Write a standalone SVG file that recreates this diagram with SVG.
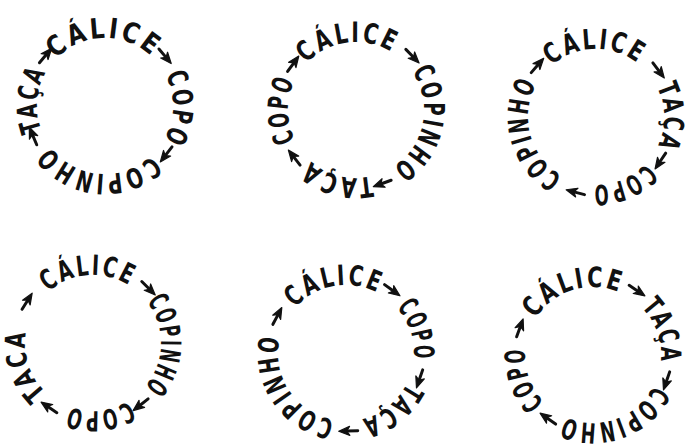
<svg xmlns="http://www.w3.org/2000/svg" width="687" height="445" viewBox="0 0 687 445">
<style>
text{font-family:"DejaVu Sans Condensed","DejaVu Sans",sans-serif;font-weight:bold;font-size:28px;fill:#111;letter-spacing:3px}
.a line{stroke:#111;stroke-width:3;stroke-linecap:round}
.a path{fill:#111;stroke:#111;stroke-width:1.2;stroke-linejoin:round}
</style>
<defs>
<path id="ring" d="M0,68 A68,68 0 1 1 0,-68 A68,68 0 1 1 0,68"/>
<g id="arr" class="a"><line x1="-9" y1="-78" x2="2" y2="-78"/><path d="M10,-78 L-1,-82.5 L2,-78 L-1,-73.5Z"/></g>
</defs>
<rect width="687" height="445" fill="#fff"/>
<g id="circle1" transform="translate(105,106)">
<text transform="rotate(-1)"><textPath href="#ring" startOffset="50%" text-anchor="middle" textLength="108" lengthAdjust="spacingAndGlyphs">CÁLICE</textPath></text>
<use href="#arr" transform="rotate(50)"/>
<text transform="rotate(92)"><textPath href="#ring" startOffset="50%" text-anchor="middle" textLength="70" lengthAdjust="spacingAndGlyphs">COPO</textPath></text>
<use href="#arr" transform="rotate(128)"/>
<text transform="rotate(186)"><textPath href="#ring" startOffset="50%" text-anchor="middle" textLength="117" lengthAdjust="spacingAndGlyphs">COPINHO</textPath></text>
<use href="#arr" transform="rotate(247)"/>
<text transform="rotate(275)"><textPath href="#ring" startOffset="50%" text-anchor="middle" textLength="62" lengthAdjust="spacingAndGlyphs">TAÇA</textPath></text>
<use href="#arr" transform="rotate(310)"/>
</g>
<g id="circle2" transform="translate(356,110)">
<text transform="rotate(-7)"><textPath href="#ring" startOffset="50%" text-anchor="middle" textLength="95" lengthAdjust="spacingAndGlyphs">CÁLICE</textPath></text>
<use href="#arr" transform="rotate(46)"/>
<text transform="rotate(102)"><textPath href="#ring" startOffset="50%" text-anchor="middle" textLength="111" lengthAdjust="spacingAndGlyphs">COPINHO</textPath></text>
<use href="#arr" transform="rotate(160)"/>
<text transform="rotate(195)"><textPath href="#ring" startOffset="50%" text-anchor="middle" textLength="67" lengthAdjust="spacingAndGlyphs">TAÇA</textPath></text>
<use href="#arr" transform="rotate(232)"/>
<text transform="rotate(270)"><textPath href="#ring" startOffset="50%" text-anchor="middle" textLength="63" lengthAdjust="spacingAndGlyphs">COPO</textPath></text>
<use href="#arr" transform="rotate(306)"/>
</g>
<g id="circle3" transform="translate(596,117)">
<text transform="rotate(-1)"><textPath href="#ring" startOffset="50%" text-anchor="middle" textLength="95" lengthAdjust="spacingAndGlyphs">CÁLICE</textPath></text>
<use href="#arr" transform="rotate(53)"/>
<text transform="rotate(90)"><textPath href="#ring" startOffset="50%" text-anchor="middle" textLength="63" lengthAdjust="spacingAndGlyphs">TAÇA</textPath></text>
<use href="#arr" transform="rotate(124)"/>
<text transform="rotate(158)"><textPath href="#ring" startOffset="50%" text-anchor="middle" textLength="60" lengthAdjust="spacingAndGlyphs">COPO</textPath></text>
<use href="#arr" transform="rotate(195)"/>
<text transform="rotate(255)"><textPath href="#ring" startOffset="50%" text-anchor="middle" textLength="108" lengthAdjust="spacingAndGlyphs">COPINHO</textPath></text>
<use href="#arr" transform="rotate(311)"/>
</g>
<g id="circle4" transform="translate(93,343)">
<text transform="rotate(-4)"><textPath href="#ring" startOffset="50%" text-anchor="middle" textLength="89" lengthAdjust="spacingAndGlyphs">CÁLICE</textPath></text>
<use href="#arr" transform="rotate(45)"/>
<text transform="rotate(92)"><textPath href="#ring" startOffset="50%" text-anchor="middle" textLength="94" lengthAdjust="spacingAndGlyphs">COPINHO</textPath></text>
<use href="#arr" transform="rotate(142)"/>
<text transform="rotate(175)"><textPath href="#ring" startOffset="50%" text-anchor="middle" textLength="63" lengthAdjust="spacingAndGlyphs">COPO</textPath></text>
<use href="#arr" transform="rotate(214)"/>
<text transform="rotate(252)"><textPath href="#ring" startOffset="50%" text-anchor="middle" textLength="68" lengthAdjust="spacingAndGlyphs">TACA</textPath></text>
<use href="#arr" transform="rotate(302)"/>
</g>
<g id="circle5" transform="translate(346,353)">
<text transform="rotate(-10)"><textPath href="#ring" startOffset="50%" text-anchor="middle" textLength="92" lengthAdjust="spacingAndGlyphs">CÁLICE</textPath></text>
<use href="#arr" transform="rotate(36)"/>
<text transform="rotate(72)"><textPath href="#ring" startOffset="50%" text-anchor="middle" textLength="57" lengthAdjust="spacingAndGlyphs">COPO</textPath></text>
<use href="#arr" transform="rotate(109)"/>
<text transform="rotate(142)"><textPath href="#ring" startOffset="50%" text-anchor="middle" textLength="62" lengthAdjust="spacingAndGlyphs">TAÇA</textPath></text>
<use href="#arr" transform="rotate(178)"/>
<text transform="rotate(237)"><textPath href="#ring" startOffset="50%" text-anchor="middle" textLength="112" lengthAdjust="spacingAndGlyphs">COPINHO</textPath></text>
<use href="#arr" transform="rotate(298)"/>
</g>
<g id="circle6" transform="translate(593,355)">
<text transform="rotate(-17)"><textPath href="#ring" startOffset="50%" text-anchor="middle" textLength="97" lengthAdjust="spacingAndGlyphs">CÁLICE</textPath></text>
<use href="#arr" transform="rotate(34)"/>
<text transform="rotate(71)"><textPath href="#ring" startOffset="50%" text-anchor="middle" textLength="61" lengthAdjust="spacingAndGlyphs">TAÇA</textPath></text>
<use href="#arr" transform="rotate(109)"/>
<text transform="rotate(161)"><textPath href="#ring" startOffset="50%" text-anchor="middle" textLength="106" lengthAdjust="spacingAndGlyphs">COPINHO</textPath></text>
<use href="#arr" transform="rotate(215)"/>
<text transform="rotate(251)"><textPath href="#ring" startOffset="50%" text-anchor="middle" textLength="60" lengthAdjust="spacingAndGlyphs">COPO</textPath></text>
<use href="#arr" transform="rotate(290)"/>
</g>
</svg>
